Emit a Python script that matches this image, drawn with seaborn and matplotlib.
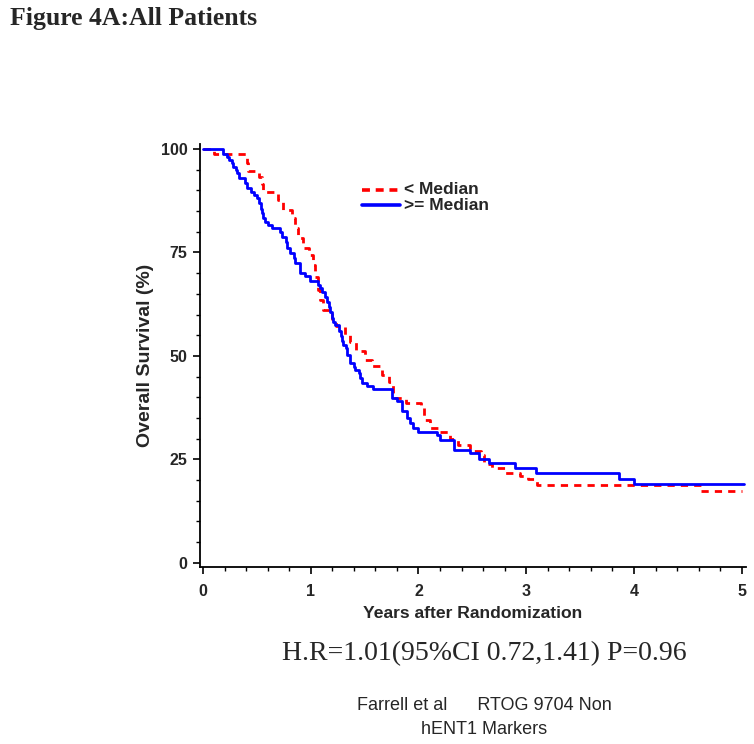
import numpy as np
import pandas as pd
import matplotlib
matplotlib.use("Agg")
import matplotlib.pyplot as plt
import seaborn as sns
from matplotlib.lines import Line2D
from matplotlib.ticker import MultipleLocator

# ---- data ----
blue_t = [0.0, 0.19, 0.22, 0.245, 0.267, 0.28, 0.307, 0.32, 0.337, 0.39, 0.406, 0.45, 0.47,
          0.50, 0.52, 0.536, 0.545, 0.555, 0.576, 0.607, 0.638, 0.716, 0.73, 0.77, 0.778,
          0.81, 0.84, 0.855, 0.90, 0.948, 0.994, 1.07, 1.087, 1.10, 1.13, 1.15, 1.165, 1.18,
          1.195, 1.21, 1.227, 1.26, 1.28, 1.29, 1.30, 1.33, 1.34, 1.36, 1.40, 1.41, 1.45,
          1.46, 1.475, 1.52, 1.58, 1.75, 1.80, 1.85, 1.89, 1.92, 1.95, 2.00, 2.17, 2.20,
          2.33, 2.48, 2.56, 2.65, 2.90, 3.09, 3.86, 4.00, 5.02]
blue_s = [100.0, 98.8, 98.1, 97.3, 96.5, 95.7, 94.9, 94.1, 92.9, 91.7, 90.5, 89.7, 88.9,
          88.1, 86.9, 85.6, 84.5, 83.3, 82.4, 81.6, 80.8, 80.0, 78.8, 77.6, 76.0,
          74.8, 73.7, 72.4, 70.0, 69.2, 68.0, 67.2, 66.4, 65.5, 64.3, 63.1, 61.9, 60.7,
          59.1, 58.3, 57.5, 55.9, 54.7, 53.5, 52.7, 51.9, 50.2, 48.2, 47.4, 46.6, 45.8,
          44.6, 43.4, 42.8, 41.9, 39.8, 39.0, 36.8, 35.0, 33.7, 32.5, 31.7, 30.9, 29.7,
          27.3, 26.6, 25.2, 24.1, 22.9, 21.6, 20.3, 19.0, 19.0]

red_t = [0.0, 0.10, 0.405, 0.42, 0.52, 0.545, 0.56, 0.70, 0.74, 0.825, 0.855, 0.885, 0.93,
         0.98, 1.02, 1.04, 1.07, 1.09, 1.11, 1.20, 1.23, 1.32, 1.36, 1.42, 1.50, 1.57,
         1.66, 1.73, 1.76, 1.88, 2.02, 2.05, 2.11, 2.20, 2.29, 2.37, 2.48, 2.58, 2.61,
         2.68, 2.80, 2.94, 3.02, 3.10, 4.62, 5.00]
red_s = [100.0, 98.7, 96.6, 94.7, 93.3, 91.5, 89.7, 87.7, 85.3, 83.3, 80.8, 78.6, 76.0,
         74.3, 72.0, 69.0, 66.0, 63.5, 61.0, 59.0, 57.2, 55.0, 53.4, 51.2, 49.0, 47.6,
         45.5, 43.8, 39.8, 38.6, 37.5, 34.5, 32.5, 31.5, 30.0, 28.5, 27.1, 26.0, 23.8,
         23.0, 21.8, 20.9, 20.3, 18.7, 17.3, 17.3]

groups = ["< Median", ">= Median"]
x_ticks = [0, 1, 2, 3, 4, 5]
y_ticks = [0, 25, 50, 75, 100]

title_text = "Figure 4A:All Patients"
hr_text = "H.R=1.01(95%CI 0.72,1.41) P=0.96"
note_lines = ["Farrell et al      RTOG 9704 Non", "hENT1 Markers"]

# ---- plotting ----
sns.set_style("ticks")
plt.rcParams["font.family"] = ["Liberation Sans", "DejaVu Sans"]

W, H = 754, 744
fig = plt.figure(figsize=(W / 100, H / 100), dpi=100)
ax = fig.add_axes([200 / W, 1 - 567 / H, 546 / W, 423 / H])

red_df = pd.DataFrame({"t": red_t, "s": red_s})
blue_df = pd.DataFrame({"t": blue_t, "s": blue_s})

sns.lineplot(data=red_df, x="t", y="s", ax=ax, color="#ff0000", lw=2.0,
             estimator=None, drawstyle="steps-post", dashes=False,
             linestyle=(0, (2.6, 2.2)))
sns.lineplot(data=blue_df, x="t", y="s", ax=ax, color="#0000ff", lw=2.0,
             estimator=None, drawstyle="steps-post")

ax.set_xlim(-0.028, 5.04)
ax.set_ylim(-1.0, 101.2)
ax.set_xticks(x_ticks)
ax.set_yticks(y_ticks)
ax.xaxis.set_minor_locator(MultipleLocator(0.2))
ax.yaxis.set_minor_locator(MultipleLocator(5))
ax.set_xticklabels([str(v) for v in x_ticks], fontweight="bold", fontsize=11.5)
ax.set_yticklabels([str(v) for v in y_ticks], fontweight="bold", fontsize=11.5)
ax.tick_params(axis="both", which="major", length=5, width=1.2, color="black")
ax.tick_params(axis="x", which="major", pad=7)
ax.tick_params(axis="y", which="major", pad=4)
ax.tick_params(axis="both", which="minor", length=3, width=1.0, color="black")

for side in ["top", "right"]:
    ax.spines[side].set_visible(False)
for side in ["left", "bottom"]:
    ax.spines[side].set_color("black")
    ax.spines[side].set_linewidth(1.3)

ax.set_xlabel("Years after Randomization", fontweight="bold", fontsize=12.6, labelpad=5)
ax.set_ylabel("Overall Survival (%)", fontweight="bold", fontsize=14, labelpad=5)
ax.grid(False)

# legend drawn in figure pixel positions
leg_x0, leg_x1, leg_y = 362, 400, 190
styles = [dict(color="#ff0000", lw=2.6, linestyle=(0, (2.2, 1.6))),
          dict(color="#0000ff", lw=2.6, linestyle="-")]
for i, (lab, st) in enumerate(zip(groups, styles)):
    yy = 1 - (leg_y + 15 * i) / H
    fig.add_artist(Line2D([leg_x0 / W, leg_x1 / W], [yy, yy], transform=fig.transFigure, **st))
    fig.text(404 / W, yy, lab, fontsize=12.5, fontweight="bold", ha="left", va="center")

fig.text(10 / W, 1 - 19 / H, title_text, fontsize=18.5, fontweight="bold",
         family=["Liberation Serif", "DejaVu Serif"], ha="left", va="center")
fig.text(484 / W, 1 - 654 / H, hr_text, fontsize=20,
         family=["Liberation Serif", "DejaVu Serif"], ha="center", va="center")
fig.text(484 / W, 1 - 705 / H, note_lines[0], fontsize=13, ha="center", va="center")
fig.text(484 / W, 1 - 729 / H, note_lines[1], fontsize=13, ha="center", va="center")

fig.savefig("out.png", dpi=100)
